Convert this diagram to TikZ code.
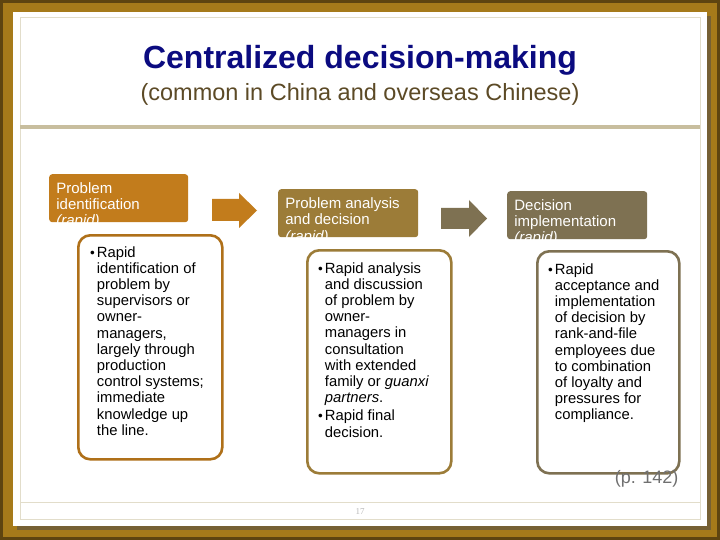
\documentclass[tikz,border=0pt]{standalone}
\usepackage{fontspec}
\setmainfont{Liberation Sans}
\newfontfamily\pagenumfont{Liberation Serif}
\usetikzlibrary{positioning}
\definecolor{my_frame}{HTML}{A67A1A}
\definecolor{my_frameedge}{HTML}{5E4410}
\definecolor{my_rule}{HTML}{C8BE9E}
\definecolor{my_thinrule}{HTML}{E2DDCA}
\definecolor{my_navy}{HTML}{0B0B80}
\definecolor{my_brown}{HTML}{5C4A26}
\definecolor{my_orange}{HTML}{C27C1C}
\definecolor{my_ochre}{HTML}{9C7C38}
\definecolor{my_taupe}{HTML}{7E7152}
\definecolor{my_gray}{HTML}{707070}

\tikzset{
    head/.style={anchor=north west, rounded corners=3pt, inner sep=0pt,
        minimum width=140pt, minimum height=48pt},
    headtext/.style={anchor=north west, inner sep=0pt, text=white, align=left,
        minimum width=0pt, minimum height=0pt,
        font=\fontsize{15}{16.2}\selectfont},
    bodybox/.style={anchor=north west, draw, line width=2.6pt, rounded corners=12pt,
        fill=white, inner sep=0pt},
    bodytext/.style={anchor=north west, inner sep=0pt, align=left,
        font=\fontsize{14.8}{16.2}\selectfont}
}
\newcommand{\bdot}{{\fontsize{13.5}{13.5}\selectfont\textbullet}}

\begin{document}
\begin{tikzpicture}[x=1pt, y=-1pt]

% Picture size in pixels of the reference: 720 x 540, y running downwards
\useasboundingbox (0,0) rectangle (720,540);

% Brown frame, panel shadow and white panel
\fill[my_frame] (0,0) rectangle (720,540);
\draw[my_frameedge, line width=3pt] (1.5,1.5) rectangle (718.5,538.5);
\fill[my_frameedge!85] (17,16) rectangle (711,530);
\fill[white] (13,12) rectangle (707,526);
\draw[my_thinrule, line width=1pt] (20,18) rectangle (700,519);
\draw[my_thinrule, line width=1pt] (20,502) -- (700,502);

% Title block and header rule
\node[text=my_navy, font=\fontsize{32}{38}\selectfont\bfseries] (title) at (360,60)
    {Centralized decision-making};
\node[text=my_brown, font=\fontsize{23.5}{28}\selectfont] (subtitle) at (360,94)
    {(common in China and overseas Chinese)};
\draw[my_rule, line width=4pt] (20,127) -- (700,127);

% Stage headers (third line is cut off by the box, as in the slide)
\node[head, fill=my_orange, minimum width=139pt,
    path picture={\node[headtext] at ([shift={(7pt,-8pt)}]path picture bounding box.north west)
        {Problem\\identification\\\textit{(rapid)}};}] (ident) at (49,174) {};
\node[head, fill=my_ochre,
    path picture={\node[headtext] at ([shift={(7pt,-8.5pt)}]path picture bounding box.north west)
        {Problem analysis\\and decision\\\textit{(rapid)}};}] (analysis) at (278,189) {};
\node[head, fill=my_taupe,
    path picture={\node[headtext] at ([shift={(7pt,-8pt)}]path picture bounding box.north west)
        {Decision\\implementation\\\textit{(rapid)}};}] (implement) at (507,191) {};

% Block arrows between the stages
\fill[my_orange] (212,199) -- (239,199) -- (239,193) -- (257,210.5) -- (239,228)
    -- (239,221) -- (212,221) -- cycle;
\fill[my_taupe] (441,208) -- (469,208) -- (469,200) -- (487,218.5) -- (469,237)
    -- (469,229) -- (441,229) -- cycle;

% Detail boxes
\node[bodybox, draw=my_orange!90!black, minimum width=144pt, minimum height=224pt]
    (identbox) at (77,234) {};
\node[bodybox, draw=my_ochre, minimum width=144pt, minimum height=223pt]
    (analysisbox) at (306,249) {};
\node[bodybox, draw=my_taupe, minimum width=142pt, minimum height=222pt]
    (implementbox) at (536,250) {};

% Detail texts
\node[bodytext] (identtext) at (90,245.5) {%
    \begin{tabular}{@{}l@{\hspace{2pt}}l@{}}
    \bdot & Rapid\\
    & identification of\\
    & problem by\\
    & supervisors or\\
    & owner-\\
    & managers,\\
    & largely through\\
    & production\\
    & control systems;\\
    & immediate\\
    & knowledge up\\
    & the line.
    \end{tabular}};
\node[bodytext] (analysistext) at (318,261.5) {%
    \begin{tabular}{@{}l@{\hspace{2pt}}l@{}}
    \bdot & Rapid analysis\\
    & and discussion\\
    & of problem by\\
    & owner-\\
    & managers in\\
    & consultation\\
    & with extended\\
    & family or \textit{guanxi}\\
    & \textit{partners}.\\[2pt]
    \bdot & Rapid final\\
    & decision.
    \end{tabular}};
\node[bodytext] (implementtext) at (548,262.5) {%
    \begin{tabular}{@{}l@{\hspace{2pt}}l@{}}
    \bdot & Rapid\\
    & acceptance and\\
    & implementation\\
    & of decision by\\
    & rank-and-file\\
    & employees due\\
    & to combination\\
    & of loyalty and\\
    & pressures for\\
    & compliance.
    \end{tabular}};

% Source and page number
\node[anchor=east, text=my_gray, font=\fontsize{18}{20}\selectfont] (source) at (682,479) {(p. 142)};
\node[text=gray!55, font=\pagenumfont\fontsize{9}{10}\selectfont] (pagenum) at (360,512) {17};

\end{tikzpicture}
\end{document}
